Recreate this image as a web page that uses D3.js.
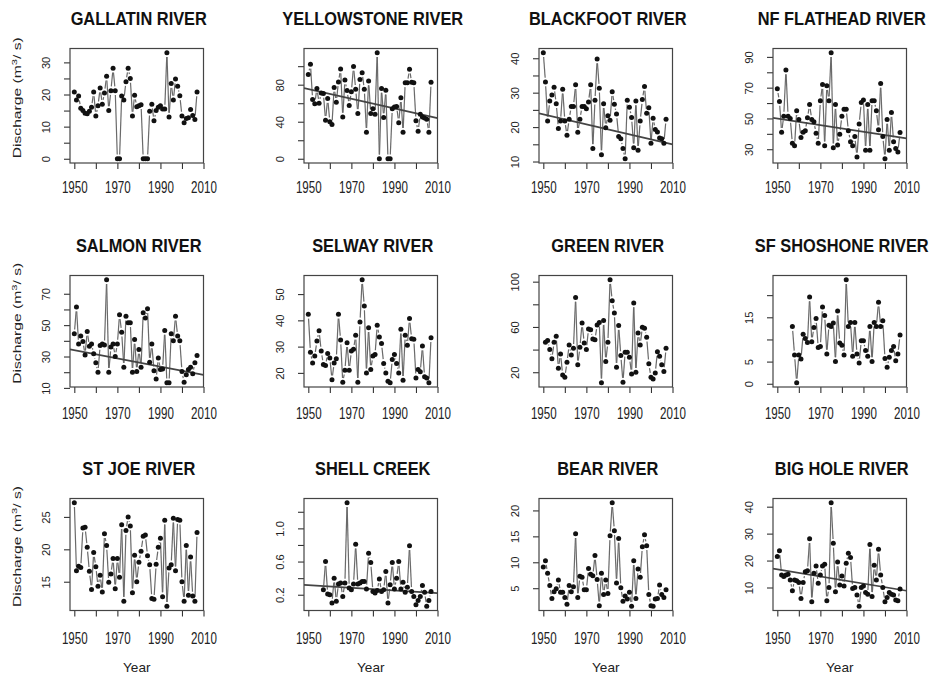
<!DOCTYPE html>
<html><head><meta charset="utf-8">
<script src="https://cdn.jsdelivr.net/npm/d3@7/dist/d3.min.js"></script>
<style>
body{margin:0;background:#fff}
svg{display:block;font-family:"Liberation Sans",Arial,Helvetica,sans-serif}
</style>
</head><body>
<svg id="chart" width="937" height="675"></svg>
<script>
// ---------- DATA ----------
const titles = ["GALLATIN RIVER","YELLOWSTONE RIVER","BLACKFOOT RIVER","NF FLATHEAD RIVER",
  "SALMON RIVER","SELWAY RIVER","GREEN RIVER","SF SHOSHONE RIVER",
  "ST JOE RIVER","SHELL CREEK","BEAR RIVER","BIG HOLE RIVER"];
const startYears = [1950,1950,1950,1950,1950,1950,1951,1957,1950,1957,1950,1950];

const gallatin = [20.8,18.3,19.5,15.7,15.0,14.2,14.0,14.8,16.0,20.8,13.3,16.5,22.0,17.0,20.5,25.7,15.0,21.2,28.2,21.2,0,0,19.5,18.3,24.0,28.2,25.0,13.3,19.8,16.2,16.5,16.8,0,0,0,14.8,17.0,11.8,15.0,16.0,16.5,15.5,15.5,33.0,13.0,23.4,18.3,24.8,22.6,19.6,13.3,11.2,12.5,12.8,15.3,13.5,12.2,20.8];
const yellowstone = [91,102,64,59.5,76,60,71,70.6,41.6,65,40,37,77,61,83,97,45,85,73.6,57.6,72.5,99.6,75,49,85.5,93,75,28.6,84,49,54,48,114.5,0,76,44.6,74,0,0,54,56,56.5,39,66,28.6,82,82,96.7,82.5,82,41,29.7,48,45,44,42.7,28.6,82.5];
const blackfoot = [41.6,33.1,21.8,27.6,29.3,31.6,26.8,19.6,21.8,31,21.8,17.6,22.3,26,26,32.3,18.5,22.3,26,26,25.3,27.3,32.3,13.8,27.8,39.8,31.3,12,26.8,19.8,23.3,22,30.3,26.6,23.8,17.3,16.6,13.8,10.8,27.8,25.8,22.8,14,27.6,13.3,21.8,28,31.8,24,25.6,15.3,22.6,19.3,18.6,16.8,16.6,15.3,22.3];
const nfFlathead = [69.3,61,41,51.5,81.5,51.5,50,33.8,32.2,55,49.3,37.6,41,42,50.4,59,49.3,47.8,40.4,33.8,61.5,72,32.2,71.3,61.5,92.7,31,59,32.7,39.8,51.5,56,56,42,34.9,32.2,38.2,25,46.4,60.4,62,29.3,59,29.3,61.5,61.5,55,42.7,72.7,38.2,23.8,49.3,29.3,53.8,34.9,30.4,28.2,40.9];
const salmon = [44.5,61.5,38,43,39.6,31,46,36.6,38,31.7,26,20,37,38,37.4,79,20,36,38,30,38,56.6,45.5,23.2,55.7,51.5,51.5,20,40.9,20.4,34.5,23.2,57.9,54.5,60.4,26.4,38,21,15.7,29,21.7,22,46.6,13.2,13.2,44.5,40,55.7,43,40,20.4,13.6,18.3,21.7,23.2,19,26,30.6];
const selway = [42.3,27.9,23.8,26.4,32.1,36,28.3,23.2,22.8,27.4,25.7,17.4,23.8,25.4,42.3,32.5,16.4,21,31.5,21,28.3,29,34.3,16.4,39.4,55.5,45.5,20,37.2,21.3,26.4,27,38.1,33.7,31.2,23.6,20,16.8,16.2,25.1,27,23.6,20,36.6,17.2,34.3,30.5,40.7,33,32.8,18.1,21.3,20.4,30.2,18.5,18.1,16.2,33.4];
const green = [46.5,48,40,31.8,46.5,51.8,23.5,36.2,17.6,15.6,28.8,44,35.3,41.2,86,26.5,42,63.5,45.9,40,58.2,57.6,49.4,48.8,61.8,64,10.6,65.6,29.4,46.5,101.8,83.2,72.4,24.4,61.2,34.7,11.2,37.6,37.6,33.2,18.5,81.2,20,54.7,44,59.7,58.8,50.9,27.4,15.6,14.1,19.4,38.2,34.1,26.5,20.6,41.2];
const sfShoshone = [12.9,6.5,0.2,6.5,5.6,11.2,10.2,9.3,19.6,9.5,12.7,14.7,8.2,8.4,17.3,15.4,6.7,13.2,12.9,13.7,5,16.4,9.2,8.7,6.5,23.5,12.9,13.8,6.2,13.8,6.7,4.7,9.7,9.7,7.5,6.2,12.9,5,13.8,12.9,18.4,12.9,14.2,5.7,3.7,6,7.5,8.4,5.2,6.7,11];
const stJoe = [27.2,16.7,17.4,17.2,23.3,23.4,20.3,16.6,13.8,19.5,17.3,14.3,16,13.4,22.4,20.6,14.9,16.2,18.6,13.9,18.6,15.7,23.8,12,22.9,25,23.6,13.3,19.1,15,18,19.7,22,22.2,19,17.6,12.4,12.3,17.7,20.3,21.7,12.7,24.5,11.2,17.1,17.6,24.8,16.7,24.6,24.5,15,12,20.6,12.9,18.8,12.8,12,22.6];
const shellCreek = [0.26,0.60,0.21,0.20,0.10,0.40,0.12,0.33,0.34,0.18,0.34,1.31,0.28,0.26,0.33,0.81,0.33,0.34,0.36,0.36,0.27,0.70,0.59,0.24,0.22,0.25,0.39,0.24,0.26,0.48,0.10,0.32,0.59,0.27,0.40,0.60,0.27,0.35,0.23,0.29,0.79,0.24,0.18,0.08,0.13,0.18,0.31,0.23,0.06,0.13,0.24];
const bear = [9.1,10.3,7.9,5.5,3,4.3,4.9,6.6,4.2,4.2,3.2,1.9,5.5,4.3,5.3,15.5,3.2,7.3,7.1,4.7,4.7,8.8,7.7,7.4,11.3,6.7,1.6,7.9,3.8,6.6,4,15.1,21.5,16.1,6,14.6,5.1,2.5,3.5,2.9,4.2,1.5,10.3,3,8.7,7.1,13,15.3,13.2,3.8,1.6,1.5,2.9,3,5.6,3.8,3.2,4.7];
const bigHole = [21.5,23.6,14.6,14.1,14.6,14.9,12.8,8.8,12.8,12.5,11.9,5.9,11.9,15.8,16.2,28.1,4.7,15.3,18,11.6,14.6,18,18.6,5.1,10,41.5,26.4,8.4,19.5,10.9,14.3,10.6,19,22.7,21.1,9.6,10,7.2,3,10,10.6,8.1,7.5,26,6.7,18.3,12.8,24.2,14.6,10,4.7,6.3,8.1,7.5,7.2,5.4,5.1,9.4];

const series = [gallatin, yellowstone, blackfoot, nfFlathead, salmon, selway, green, sfShoshone, stJoe, shellCreek, bear, bigHole];

// trend lines: two [year, value] points (null = no trend)
const trends = [null, [[1948,76.2],[2010,43.9]], [[1948,24.0],[2010,15.0]], [[1948,50.4],[2010,37.1]],
  [[1948,34.5],[2010,18.3]], null, null, null,
  null, [[1948,0.32],[2010,0.22]], null, [[1948,17.0],[2010,8.8]]];

const xTickValues = [1950,1960,1970,1980,1990,2000,2010];
const xTickLabels = ["1950","1970","1990","2010"];
const xDomain = [1948, 2010];

const yTickValues = [
  [0,5,10,15,20,25,30],[0,20,40,60,80,100],[10,15,20,25,30,35,40],[30,40,50,60,70,80,90],
  [10,20,30,40,50,60,70],[20,30,40,50],[20,40,60,80,100],[0,5,10,15,20],
  [15,20,25],[0.2,0.4,0.6,0.8,1.0,1.2],[5,10,15,20],[10,20,30,40]];
const yTickLabels = [
  ["0","10","20","30"],["0","40","80"],["10","20","30","40"],["30","50","70","90"],
  ["10","30","50","70"],["20","30","40","50"],["20","60","100"],["0","5","15"],
  ["15","20","25"],["0.2","0.6","1.0"],["5","10","15","20"],["10","20","30","40"]];
const yTickDecimals = [0,0,0,0,0,0,0,0,0,1,0,0];

const yAxisTitle = "Discharge (m";
const xAxisTitle = "Year";

// ---------- LAYOUT ----------
const colLeft = [70, 304, 539, 773];
const boxW = 133.5;
const rowTop = [48.5, 275.5, 498.5];
const rowH = [114.5, 111.5, 112];
const xLabOff = [24, 26, 27];

const svg = d3.select("#chart");
const gap = 4.3;

series.forEach((vals, i) => {
  const c = i % 4, r = Math.floor(i / 4);
  const L = colLeft[c], T = rowTop[r], W = boxW, H = rowH[r];
  const g = svg.append("g").attr("transform", `translate(${L},${T})`);
  const x = d3.scaleLinear().domain(xDomain).range([0, W]);
  const ext = d3.extent(vals);
  const pad = (ext[1] - ext[0]) * 0.04;
  const y = d3.scaleLinear().domain([ext[0] - pad, ext[1] + pad]).range([H, 0]);

  const cid = "clip" + i;
  g.append("clipPath").attr("id", cid).append("rect").attr("width", W).attr("height", H);

  // title
  g.append("text").attr("text-anchor", "middle")
    .attr("transform", `translate(${W/2 + 2},${-24}) scale(1,1.13)`)
    .attr("font-weight", "bold").attr("font-size", 16.4).attr("fill", "#111")
    .text(titles[i]);

  // x axis
  const xa = g.append("g").attr("transform", `translate(0,${H})`)
    .call(d3.axisBottom(x).tickValues(xTickValues).tickSize(6).tickSizeOuter(0)
      .tickFormat(d => xTickLabels.includes(String(d)) ? String(d) : ""));
  xa.select(".domain").remove();
  xa.selectAll("line").attr("stroke", "#333").attr("stroke-width", 1.1);
  xa.selectAll("text").attr("y", null).attr("dy", null)
    .attr("transform", `translate(0,${xLabOff[r] + 6}) scale(1,1.45)`)
    .attr("font-size", 11.6).attr("fill", "#222").attr("font-family", null);

  // y axis
  const fmt = d => d.toFixed(yTickDecimals[i]);
  const ya = g.append("g")
    .call(d3.axisLeft(y).tickValues(yTickValues[i]).tickSize(6).tickSizeOuter(0)
      .tickFormat(d => yTickLabels[i].includes(fmt(d)) ? fmt(d) : ""));
  ya.select(".domain").remove();
  ya.selectAll("line").attr("stroke", "#333").attr("stroke-width", 1.1);
  ya.selectAll("text").attr("x", null).attr("dy", null)
    .attr("text-anchor", "middle")
    .attr("transform", `translate(-20.3,0) rotate(-90) scale(1.08,1)`)
    .attr("font-size", 10.4).attr("fill", "#222").attr("font-family", null);

  // box
  g.append("rect").attr("width", W).attr("height", H)
    .attr("fill", "none").attr("stroke", "#444").attr("stroke-width", 1.2);

  const yrs = vals.map((v, k) => startYears[i] + k);
  const pts = vals.map((v, k) => [x(yrs[k]), y(v)]);

  // connecting segments with gaps (type "b")
  const segs = [];
  for (let k = 0; k < pts.length - 1; k++) {
    const [x1, y1] = pts[k], [x2, y2] = pts[k + 1];
    const dx = x2 - x1, dy = y2 - y1, len = Math.hypot(dx, dy);
    if (len > 2 * gap) {
      const ux = dx / len, uy = dy / len;
      segs.push([x1 + ux * gap, y1 + uy * gap, x2 - ux * gap, y2 - uy * gap]);
    }
  }
  g.append("g").selectAll("line").data(segs).join("line")
    .attr("x1", d => d[0]).attr("y1", d => d[1]).attr("x2", d => d[2]).attr("y2", d => d[3])
    .attr("stroke", "#6a6a6a").attr("stroke-width", 1.2);

  // trend
  if (trends[i]) {
    const [[ya0, v0], [ya1, v1]] = trends[i];
    const f = t => v0 + (v1 - v0) * (t - ya0) / (ya1 - ya0);
    g.append("line").attr("clip-path", `url(#${cid})`)
      .attr("x1", x(xDomain[0])).attr("y1", y(f(xDomain[0])))
      .attr("x2", x(xDomain[1])).attr("y2", y(f(xDomain[1])))
      .attr("stroke", "#444").attr("stroke-width", 1.7);
  }

  // points
  g.append("g").selectAll("circle").data(pts).join("circle")
    .attr("cx", d => d[0]).attr("cy", d => d[1]).attr("r", 2.5).attr("fill", "#111");

  // y axis title (first column)
  if (c === 0) {
    const t = svg.append("text").attr("text-anchor", "middle")
      .attr("transform", `translate(20.5,${T + H/2 - 8}) rotate(-90) scale(1.4,1)`)
      .attr("font-size", 11.2).attr("fill", "#222");
    t.append("tspan").text(yAxisTitle);
    t.append("tspan").attr("dy", -4).attr("font-size", 8).text("3");
    t.append("tspan").attr("dy", 4).text("/ s)");
  }
  // x axis title (bottom row)
  if (r === 2) {
    svg.append("text").attr("text-anchor", "middle")
      .attr("x", L + W/2).attr("y", 671.5)
      .attr("font-size", 13.6).attr("fill", "#222").text(xAxisTitle);
  }
});
</script>
</body></html>
